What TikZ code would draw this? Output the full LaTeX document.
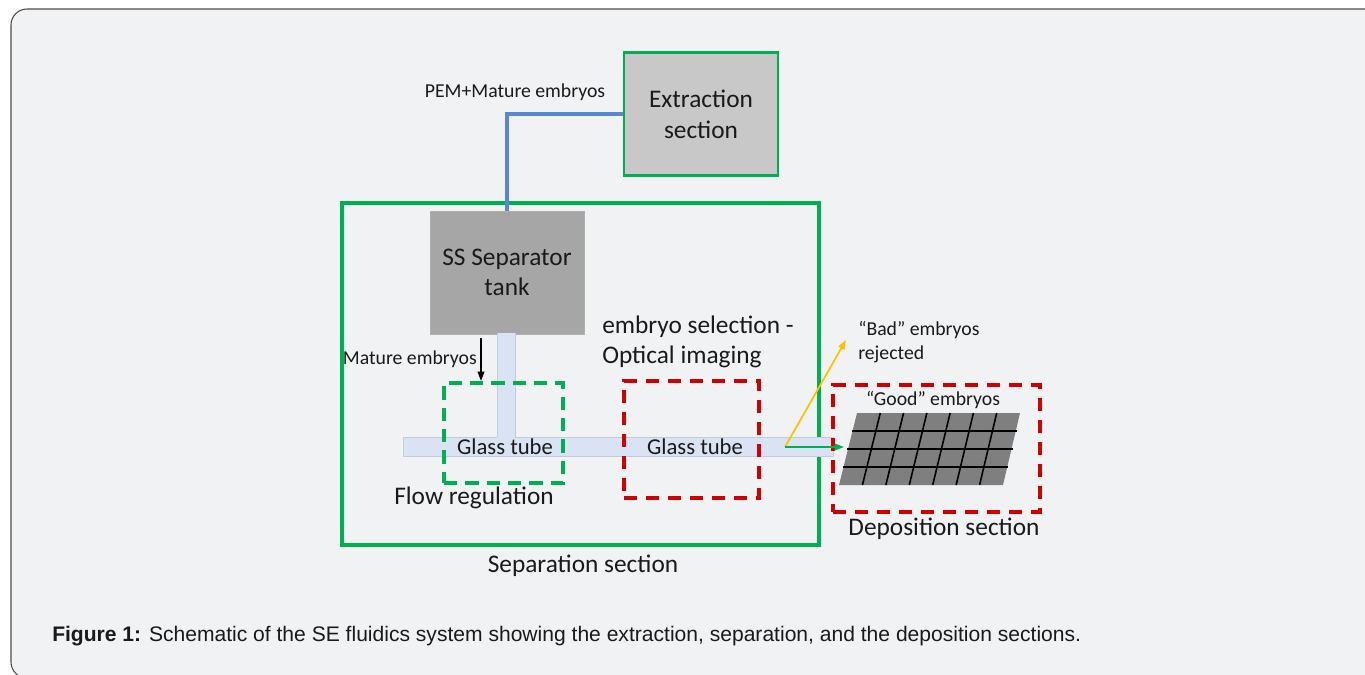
\documentclass[tikz,border=0pt]{standalone}
\usepackage{fontspec}
\setmainfont{Carlito}
\newfontfamily\capfont{Liberation Sans}
\usetikzlibrary{arrows.meta,calc}
\definecolor{bgc}{HTML}{F1F2F4}
\definecolor{grn}{HTML}{00B050}
\definecolor{rd}{HTML}{D00000}
\definecolor{blu}{HTML}{5B86D4}
\definecolor{tubef}{HTML}{DAE3F3}
\definecolor{tubed}{HTML}{C3CCDA}
\definecolor{yel}{HTML}{FFC000}
\definecolor{extf}{HTML}{C8C8C8}
\definecolor{tankf}{HTML}{A6A6A6}
\definecolor{gridf}{HTML}{7F7F7F}
\definecolor{txt}{HTML}{1A1A1A}
\tikzset{
  big/.style={font=\fontsize{19}{23}\selectfont, text=txt},
  mid/.style={font=\fontsize{17}{20}\selectfont, text=txt},
  small/.style={font=\fontsize{14.8}{18}\selectfont, text=txt},
  solidbox/.style={draw=grn, line width=2.6pt, inner sep=0pt},
  dashgreen/.style={draw=grn, line width=2.6pt, dash pattern=on 10pt off 6pt},
  dashred/.style={draw=rd, line width=2.6pt, dash pattern=on 10pt off 6.5pt},
  tip/.style={-{Triangle[length=7pt,width=5pt]}}
}
\begin{document}
\begin{tikzpicture}[x=0.75pt,y=-0.75pt]
\useasboundingbox (0,0) rectangle (1365,675);
\fill[white] (0,0) rectangle (1365,675);
\draw[fill=bgc, draw=black!70, line width=0.8pt, rounded corners=12pt] (11,9) rectangle (1385,678);

% extraction section
\node[draw=grn, line width=2pt, fill=extf, minimum width=154*0.75pt, minimum height=123*0.75pt, inner sep=0pt, big, align=center] (ext) at (701,114) {Extraction\\section};

% separation section
\node[solidbox, minimum width=477*0.75pt, minimum height=342*0.75pt] (sep) at (580.5,374) {};
\node[big] (seplab) at (583,566) {Separation section};

% tank
\node[draw=tankf!90, fill=tankf, minimum width=154*0.75pt, minimum height=123*0.75pt, inner sep=0pt, big, align=center] (tank) at (507,272.5) {SS Separator\\tank};

% blue pipe
\draw[blu, line width=3.2pt] (ext.west) -| (tank.north);
\node[small, anchor=center] (pem) at (515,92) {PEM+Mature embryos};

% tubes
\node[draw=tubed, line width=0.6pt, fill=tubef, minimum width=430*0.75pt, minimum height=19*0.75pt, inner sep=0pt] (htube) at (618,446.5) {};
\fill[tubef] (497,333) rectangle (515,438);
\draw[tubed, line width=0.6pt] (497,333) -- (497,437) (515,333) -- (515,437);

% mature embryos arrow
\node[small, anchor=east, inner sep=0pt] (mat) at (477,359) {Mature embryos};
\coordinate (ma1) at (481,338);
\coordinate (ma2) at (481,381);
\draw[tip, black, line width=1.1pt] (ma1) -- (ma2);

% flow regulation box
\node[dashgreen, minimum width=119*0.75pt, minimum height=100*0.75pt, inner sep=0pt] (flow) at (503.5,433) {};
\node[mid] (gt1) at (505,447) {Glass tube};
\node[big] (flowlab) at (474,498) {Flow regulation};

% optical imaging box
\node[dashred, minimum width=135*0.75pt, minimum height=117*0.75pt, inner sep=0pt] (opt) at (691.5,439.5) {};
\node[mid] (gt2) at (695,447) {Glass tube};
\node[big, anchor=west, align=left, inner sep=0pt] (optlab) at (602,342) {embryo selection -\\Optical imaging};

% deposition
\node[dashred, minimum width=207*0.75pt, minimum height=127*0.75pt, inner sep=0pt] (dep) at (936.5,448.5) {};
\node[big] (deplab) at (944,529) {Deposition section};
\node[small] (good) at (933,400) {“Good” embryos};
\node[small, anchor=west, align=left, inner sep=0pt] (bad) at (858,342) {“Bad” embryos\\rejected};

% grid
\coordinate (tl) at (857,413);
\coordinate (tr) at (1020,413);
\coordinate (br) at (1003,485);
\coordinate (bl) at (839,485);
\fill[gridf] (tl) -- (tr) -- (br) -- (bl) -- cycle;
\foreach \i in {1,...,6}{
  \draw[black, line width=1.2pt] ($(tl)!\i/7!(tr)$) -- ($(bl)!\i/7!(br)$);
}
\foreach \j in {1,2,3}{
  \draw[black, line width=1.2pt] ($(tl)!\j/4!(bl)+(-1,0)$) -- ($(tr)!\j/4!(br)+(1,0)$);
}

% split arrows
\coordinate (split) at (785,447);
\coordinate (badend) at (846,340);
\coordinate (goodend) at (844,447);
\draw[tip, yel, line width=1.3pt] (split) -- (badend);
\draw[tip, grn, line width=1.3pt] (split) -- (goodend);

% caption
\node[anchor=west, inner sep=0pt, font=\capfont\fontsize{15.8}{18}\selectfont, text=txt] (cap) at (52,636) {\textbf{Figure 1:} Schematic of the SE fluidics system showing the extraction, separation, and the deposition sections.};
\end{tikzpicture}
\end{document}
